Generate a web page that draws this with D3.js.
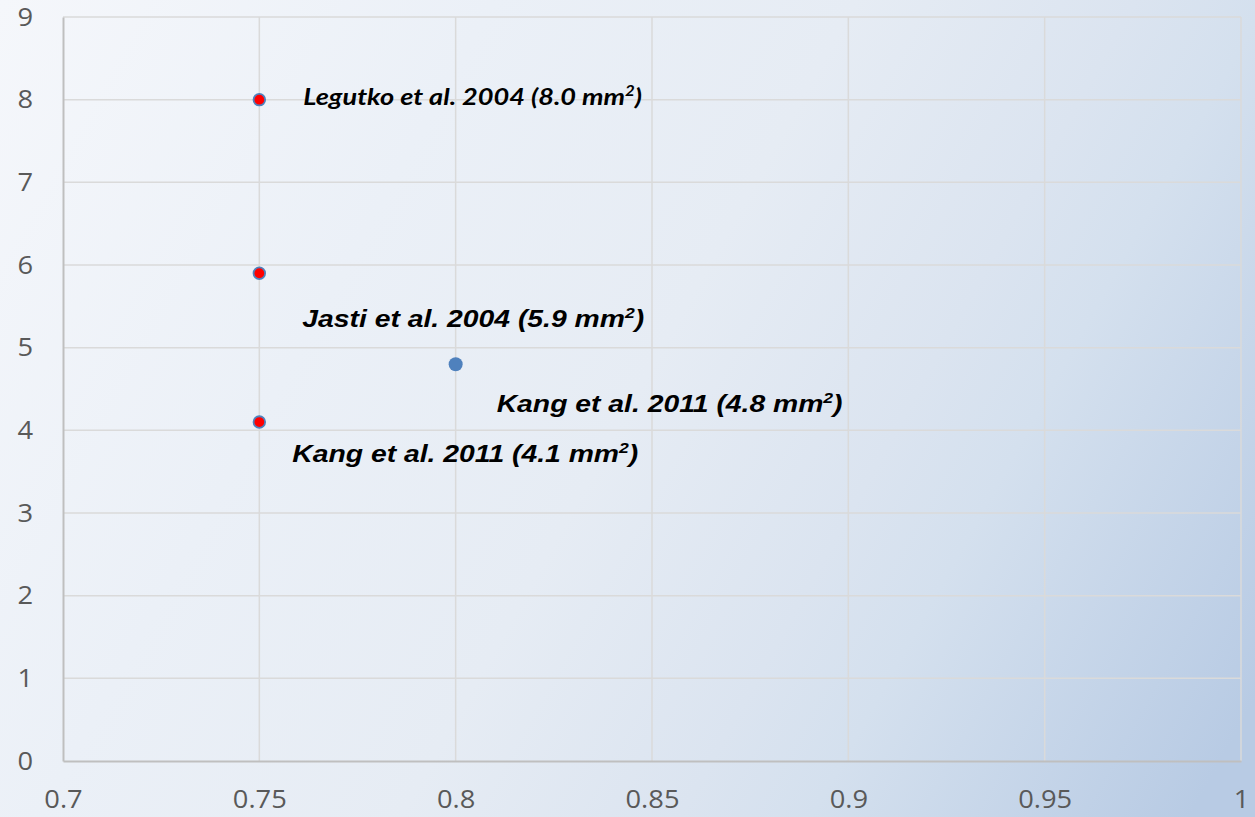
<!DOCTYPE html>
<html>
<head>
<meta charset="utf-8">
<script src="https://cdn.jsdelivr.net/npm/d3@7"></script>
<style>
  html, body { margin: 0; padding: 0; background: #fff; }
  svg { display: block; }
</style>
</head>
<body>
<svg id="chart" width="1255" height="817"></svg>
<script>
// Study results: red series at x = 0.75, blue series at x = 0.8
const redX = [0.75, 0.75, 0.75];
const redY = [8.0, 5.9, 4.1];
const redLabels = ["Legutko et al. 2004 (8.0 mm", "Jasti et al. 2004 (5.9 mm", "Kang et al. 2011 (4.1 mm"];
const blueX = [0.8];
const blueY = [4.8];
const blueLabels = ["Kang et al. 2011 (4.8 mm"];
const xTicks = [0.7, 0.75, 0.8, 0.85, 0.9, 0.95, 1];
const yTicks = [0, 1, 2, 3, 4, 5, 6, 7, 8, 9];

const W = 1255, H = 817;
const margin = { left: 63, right: 14, top: 17, bottom: 56 };
const SX = 1.18;      // horizontal stretch of data labels
const TICK_SX = 1.05; // horizontal stretch of tick labels
const svg = d3.select("#chart");

// background gradient, light at top-left, blue toward bottom-right
const defs = svg.append("defs");
const grad = defs.append("linearGradient").attr("id", "bg")
  .attr("gradientUnits", "userSpaceOnUse")
  .attr("x1", 0).attr("y1", 0).attr("x2", W).attr("y2", 700);
[[0, "#f5f7fb"], [0.3, "#ebf0f7"], [0.52, "#e6ecf4"], [0.69, "#dbe4f0"], [0.77, "#d4e0ee"], [1, "#b8cbe4"]]
  .forEach(([o, c]) => grad.append("stop").attr("offset", o).attr("stop-color", c));
svg.append("rect").attr("width", W).attr("height", H).attr("fill", "url(#bg)");

const x = d3.scaleLinear().domain([0.7, 1]).range([margin.left, W - margin.right]);
const y = d3.scaleLinear().domain([0, 9]).range([H - margin.bottom, margin.top]);

// gridlines
const grid = svg.append("g");
grid.selectAll("line.h").data(yTicks.filter(d => d > 0)).join("line")
  .attr("x1", x(0.7)).attr("x2", x(1))
  .attr("y1", d => y(d)).attr("y2", d => y(d))
  .attr("stroke", "#dadada").attr("stroke-width", 1.5);
grid.selectAll("line.v").data(xTicks.filter(d => d > 0.7)).join("line")
  .attr("y1", y(0)).attr("y2", y(9))
  .attr("x1", d => x(d)).attr("x2", d => x(d))
  .attr("stroke", "#dadada").attr("stroke-width", 1.5);

// axes
const tickFont = "'Open Sans', 'Liberation Sans', sans-serif";
const xAxis = svg.append("g").attr("transform", `translate(0,${y(0)})`)
  .call(d3.axisBottom(x).tickValues(xTicks).tickSize(0).tickPadding(29).tickFormat(d3.format("")));
const yPad = 30;
const yAxis = svg.append("g").attr("transform", `translate(${x(0.7)},0)`)
  .call(d3.axisLeft(y).tickValues(yTicks).tickSize(0).tickPadding(yPad).tickFormat(d3.format("")));
[xAxis, yAxis].forEach(a => {
  a.select(".domain").attr("stroke", "#bfbfbf").attr("stroke-width", 2);
  a.selectAll("text").attr("fill", "#595959")
    .style("font-family", tickFont).style("font-size", "26px")
    .attr("transform", `scale(${TICK_SX},1)`);
});
yAxis.selectAll("text").attr("x", -yPad / TICK_SX);

// points
svg.append("g").selectAll("circle").data(redY).join("circle")
  .attr("cx", (d, i) => x(redX[i])).attr("cy", d => y(d)).attr("r", 5.8)
  .attr("fill", "#ff0000").attr("stroke", "#4f81bd").attr("stroke-width", 1.8);
svg.append("g").selectAll("circle").data(blueY).join("circle")
  .attr("cx", (d, i) => x(blueX[i])).attr("cy", d => y(d)).attr("r", 7)
  .attr("fill", "#4f81bd");

// data labels with superscript unit
function addLabel(text, px, py, font, size) {
  const t = svg.append("text")
    .attr("transform", `translate(${px},${py}) scale(${SX},1)`)
    .attr("fill", "#000").style("font-family", font).style("font-size", size + "px")
    .style("font-weight", "bold").style("font-style", "italic");
  t.append("tspan").text(text);
  t.append("tspan").attr("dy", -size * 0.38).style("font-size", (size * 0.62) + "px").text("2");
  t.append("tspan").attr("dy", size * 0.38).text(")");
}
const arial = "'Liberation Sans', Arial, sans-serif";
addLabel(redLabels[0], x(redX[0]) + 44, y(redY[0]) + 5, "Lato, 'Open Sans', sans-serif", 23);
addLabel(redLabels[1], x(redX[1]) + 43, y(redY[1]) + 54, arial, 24);
addLabel(redLabels[2], x(redX[2]) + 33, y(redY[2]) + 40, arial, 24);
addLabel(blueLabels[0], x(blueX[0]) + 41, y(blueY[0]) + 48, arial, 24);
</script>
</body>
</html>
